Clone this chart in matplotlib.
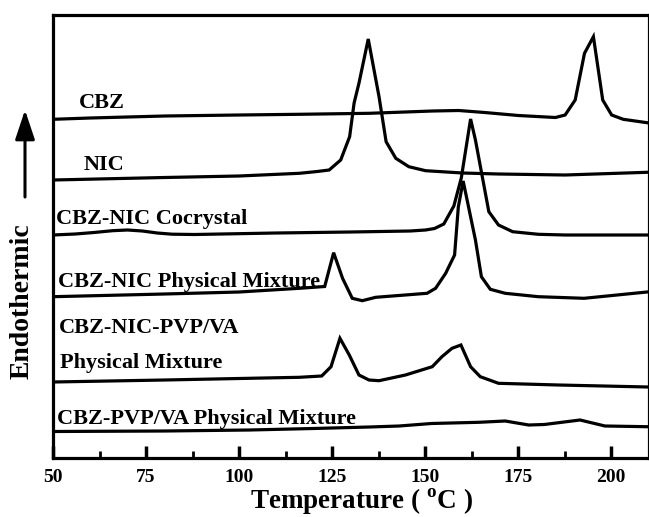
import matplotlib
matplotlib.use("Agg")
import matplotlib.pyplot as plt
from matplotlib.ticker import MultipleLocator

plt.rcParams['font.family'] = ['Liberation Serif', 'DejaVu Serif']
plt.rcParams['font.weight'] = 'bold'
plt.rcParams['mathtext.fontset'] = 'custom'
plt.rcParams['mathtext.rm'] = 'Liberation Serif:bold'
plt.rcParams['mathtext.bf'] = 'Liberation Serif:bold'

# ---- data (temperature in degC, stacked heat-flow in arbitrary units) ----
cbz_T = [50, 60, 80, 100, 116, 135, 152, 159, 166, 175, 185, 187.6, 190.3, 192.8, 195.2, 197.7, 200.1, 203.2, 209.6]
cbz_H = [338.7, 340, 342, 343, 343.7, 344.7, 347, 347.5, 345.5, 342.5, 340.5, 343, 358, 404.7, 421.3, 358, 343, 338.7, 335.3]

nic_T = [50, 80, 100, 116.2, 121, 124.2, 127.3, 129.7, 130.9, 132.2, 134.7, 137.6, 139.5, 142.1, 145.6, 150.1, 160, 169.7, 187.6, 209.6]
nic_H = [278, 280.5, 282, 284.7, 286.5, 288, 298, 321.3, 355, 374.7, 419, 361.3, 316.3, 299.7, 291.3, 287.3, 285, 284, 283, 285.7]

co_T = [50, 56, 61, 66, 70, 74, 78, 82, 88, 110, 130, 146, 150.1, 152.5, 155, 157.7, 159.7, 162.2, 163.5, 167.1, 169.7, 173.5, 180.4, 187.6, 209.6]
co_H = [223, 224, 225.5, 227.3, 228, 227, 225, 223.8, 223.5, 225, 226, 227, 228, 229.5, 234, 252, 280, 339, 318, 246.3, 233, 226.3, 223.7, 223, 223]

pm_T = [50, 80, 100, 116.2, 123, 125.4, 127.8, 130.4, 133.1, 136.7, 150.5, 152.8, 155.5, 157.9, 158.9, 160.2, 163.5, 165.1, 167.5, 171.5, 180.4, 192.7, 209.6]
pm_H = [161.3, 164, 166, 169.7, 171.5, 205.3, 179.7, 159.7, 157.3, 160.7, 164.7, 169.7, 184.7, 203, 251, 277, 218, 181.3, 168.7, 164.7, 161.3, 159.7, 166]

pvp_T = [50, 80, 100, 116.2, 122.2, 124.7, 127.1, 129.6, 132.2, 134.9, 137.6, 144.7, 151.9, 154.5, 157.2, 159.6, 162.2, 164.8, 169.7, 185.8, 209.9]
pvp_H = [76, 78, 79.5, 80.7, 82, 91.3, 119.7, 103, 83, 78, 77.3, 83, 91.3, 101.3, 109.7, 113, 91.3, 81.3, 74.7, 73, 71]

cpv_T = [50, 80, 102.8, 120, 135, 143, 151.7, 164.4, 171.5, 177.8, 182, 191.6, 198.3, 209.5]
cpv_H = [26.5, 27, 28, 29.5, 31, 32, 34.5, 35.7, 37, 33, 33.5, 38, 32, 31.3]

series = [(cbz_T, cbz_H), (nic_T, nic_H), (co_T, co_H), (pm_T, pm_H), (pvp_T, pvp_H), (cpv_T, cpv_H)]

labels = ["CBZ", "NIC", "CBZ-NIC Cocrystal", "CBZ-NIC Physical Mixture",
          "CBZ-NIC-PVP/VA", "Physical Mixture", "CBZ-PVP/VA Physical Mixture"]
label_T = [57.0, 58.1, 50.8, 51.4, 51.7, 51.9, 51.0]
label_H = [349.7, 288, 234, 171.3, 124.7, 90, 34]

xticks = [50, 75, 100, 125, 150, 175, 200]

# ---- figure ----
fig = plt.figure(figsize=(6.49, 5.17), dpi=100)
ax = fig.add_axes([53/649, 59/517, (648.5-53)/649, (458-15)/517])

for T, H in series:
    ax.plot(T, H, color='black', lw=2.3, solid_joinstyle='miter')

for s, tx, hy in zip(labels, label_T, label_H):
    ax.text(tx, hy, s, fontsize=16, fontweight='bold', ha='left', va='baseline')

ax.set_xlim(50, 210)
ax.set_ylim(0, 443)
ax.set_xticks(xticks)
ax.set_xticklabels([str(t) for t in xticks])
ax.xaxis.set_minor_locator(MultipleLocator(12.5))
ax.set_yticks([])
ax.tick_params(axis='x', which='major', direction='in', length=9, width=2.5,
               labelsize=14, pad=8)
ax.tick_params(axis='x', which='minor', direction='in', length=5, width=2)
for lab in ax.get_xticklabels():
    lab.set_fontweight('bold')
for sp in ax.spines.values():
    sp.set_linewidth(2.3)

fig.text(361/649, 9/517, r'Temperature ( $^{\mathrm{o}}$C )', fontsize=19.5,
         fontweight='bold', ha='center', va='baseline')
fig.text(22/649, 1 - 301/517, 'Endothermic', fontsize=20, fontweight='bold',
         rotation=90, ha='center', va='center')
fig.add_artist(matplotlib.patches.FancyArrowPatch(
    (25/649, 1 - 197/517), (25/649, 1 - 110/517), transform=fig.transFigure,
    arrowstyle='-|>,head_length=0.9,head_width=0.3', mutation_scale=20,
    lw=2.2, color='black', shrinkA=0, shrinkB=0))

fig.savefig('out.png', dpi=100)
